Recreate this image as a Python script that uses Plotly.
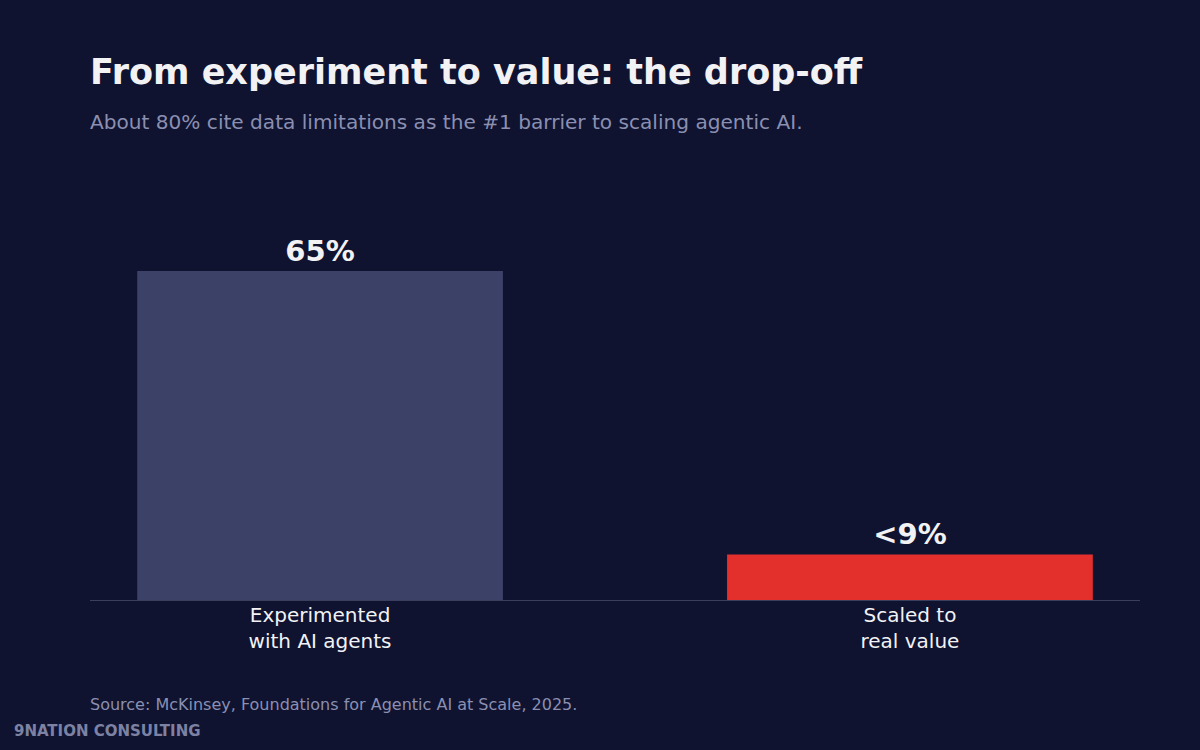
"""Bar chart: from experiment to value, the drop-off."""

import plotly.graph_objects as go

categories = ["Experimented<br>with AI agents", "Scaled to<br>real value"]
values = [65, 9]
value_labels = ["65%", "<9%"]
bar_colors = ["#3b4167", "#e3302d"]

BG = "#0f1330"
TEXT = "#f2f2f5"
MUTED = "#8b8fb1"
FONT = "DejaVu Sans"

# plot area in pixels: left 90, right 1140, top 180, bottom 600
W, H = 1200, 750
L, R, T, B = 90, 60, 180, 150
PW, PH = W - L - R, H - T - B


def px_x(x):
    return (x - L) / PW


def px_y(y):
    return (H - B - y) / PH


fig = go.Figure(
    go.Bar(
        x=[0, 1],
        y=values,
        width=0.62,
        marker=dict(color=bar_colors, line=dict(width=0)),
        text=value_labels,
        textposition="outside",
        textfont=dict(family=FONT, size=29, color=TEXT, weight="bold"),
        cliponaxis=False,
        hoverinfo="skip",
    )
)

fig.update_layout(
    width=W,
    height=H,
    paper_bgcolor=BG,
    plot_bgcolor=BG,
    margin=dict(l=L, r=R, t=T, b=B),
    showlegend=False,
    font=dict(family=FONT, color=TEXT),
    title=dict(
        text="<b>From experiment to value: the drop-off</b>",
        font=dict(family=FONT, size=35, color=TEXT),
        xref="paper",
        x=0,
        xanchor="left",
        yref="container",
        y=1 - 72 / H,
        yanchor="middle",
    ),
    xaxis=dict(
        range=[-0.39, 1.39],
        tickvals=[0, 1],
        ticktext=categories,
        tickfont=dict(family=FONT, size=20, color=TEXT),
        ticks="",
        ticklabelstandoff=-3,
        showgrid=False,
        zeroline=False,
        showline=True,
        linecolor="#3a3f5e",
        linewidth=1,
        fixedrange=True,
    ),
    yaxis=dict(
        range=[0, PH / 5.06],
        visible=False,
        fixedrange=True,
    ),
    annotations=[
        dict(
            text="About 80% cite data limitations as the #1 barrier to scaling agentic AI.",
            xref="paper", yref="paper",
            x=0, y=px_y(122), xshift=-2,
            xanchor="left", yanchor="middle",
            showarrow=False,
            font=dict(family=FONT, size=20.1, color=MUTED),
        ),
        dict(
            text="Source: McKinsey, Foundations for Agentic AI at Scale, 2025.",
            xref="paper", yref="paper",
            x=0, y=px_y(704), xshift=-2,
            xanchor="left", yanchor="middle",
            showarrow=False,
            font=dict(family=FONT, size=16, color=MUTED),
        ),
        dict(
            text="<b>9NATION CONSULTING</b>",
            xref="paper", yref="paper",
            x=px_x(14), y=px_y(730), xshift=-2,
            xanchor="left", yanchor="middle",
            showarrow=False,
            font=dict(family="DejaVu Sans Condensed, DejaVu Sans", size=16.7, color="#7d82a3"),
        ),
    ],
)

# drop the default page margin so the figure fills the window
fig.write_html(
    "out.html",
    config=dict(displayModeBar=False),
    post_script="document.body.style.margin='0';document.body.style.background='#0f1330';",
)
